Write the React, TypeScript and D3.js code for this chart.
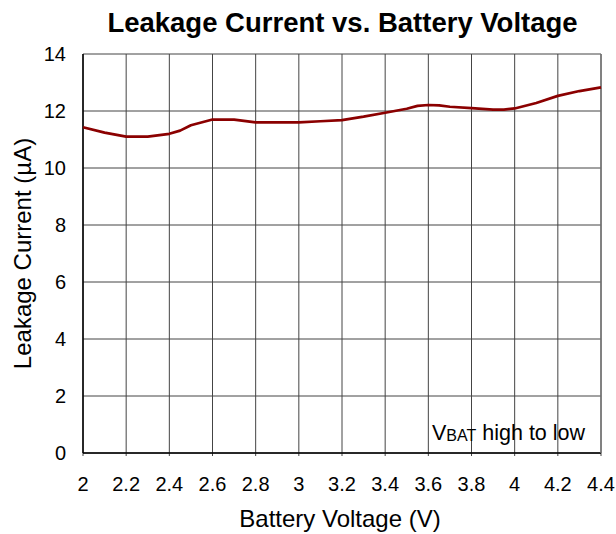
import React from "react";
import * as d3 from "d3";

const voltage = [2.0, 2.1, 2.2, 2.3, 2.4, 2.45, 2.5, 2.6, 2.7, 2.8, 2.9, 3.0, 3.1, 3.2, 3.3, 3.4, 3.5, 3.55, 3.6, 3.65, 3.7, 3.8, 3.9, 3.95, 4.0, 4.1, 4.2, 4.3, 4.4];
const current = [11.43, 11.24, 11.1, 11.1, 11.2, 11.31, 11.5, 11.7, 11.7, 11.6, 11.6, 11.6, 11.64, 11.68, 11.8, 11.94, 12.08, 12.18, 12.21, 12.2, 12.15, 12.1, 12.05, 12.05, 12.09, 12.28, 12.53, 12.7, 12.83];
const xTicks = [2, 2.2, 2.4, 2.6, 2.8, 3, 3.2, 3.4, 3.6, 3.8, 4, 4.2, 4.4];
const yTicks = [0, 2, 4, 6, 8, 10, 12, 14];

const W = 616, H = 534;
const L = 83, R = 601, T = 54, B = 453;
const font = "Liberation Sans, Arial, sans-serif";

export default function App() {
  const x = d3.scaleLinear().domain([2, 4.4]).range([L, R]);
  const y = d3.scaleLinear().domain([0, 14]).range([B, T]);
  const line = d3.line<number>().x((_, i) => x(voltage[i])).y((d) => y(d));
  return (
    <svg width={W} height={H} style={{ position: "absolute", left: 0, top: 0 }} fontFamily={font}>
      <rect width={W} height={H} fill="#fff" />
      <text x={342.5} y={32} textAnchor="middle" fontSize={27.5} fontWeight="bold">Leakage Current vs. Battery Voltage</text>
      {xTicks.map((t) => (
        <line key={"gx" + t} x1={x(t)} x2={x(t)} y1={T} y2={B + 3} stroke="#444" strokeWidth={1} />
      ))}
      {yTicks.map((t) => (
        <line key={"gy" + t} x1={L} x2={R} y1={y(t)} y2={y(t)} stroke="#444" strokeWidth={1} />
      ))}
      <line x1={L} x2={L} y1={T} y2={B} stroke="#000" strokeWidth={1.5} />
      <line x1={L} x2={R} y1={B} y2={B} stroke="#000" strokeWidth={1.5} />
      <line x1={R} x2={R} y1={T} y2={B} stroke="#777" strokeWidth={1.5} />
      <path d={line(current) || ""} fill="none" stroke="#8B0000" strokeWidth={2.7} strokeLinejoin="round" />
      {yTicks.map((t) => (
        <text key={"ty" + t} x={66} y={y(t) + 7} textAnchor="end" fontSize={20}>{t}</text>
      ))}
      {xTicks.map((t) => (
        <text key={"tx" + t} x={x(t)} y={491} textAnchor="middle" fontSize={20}>{d3.format("~g")(t)}</text>
      ))}
      <text x={340} y={527} textAnchor="middle" fontSize={24}>Battery Voltage (V)</text>
      <text transform={`translate(31,${(T + B) / 2}) rotate(-90)`} textAnchor="middle" fontSize={24}>Leakage Current (µA)</text>
      <text x={432} y={440} fontSize={21.5}>V<tspan fontSize={16} dy={1}>BAT</tspan><tspan dy={-1}> high to low</tspan></text>
    </svg>
  );
}
